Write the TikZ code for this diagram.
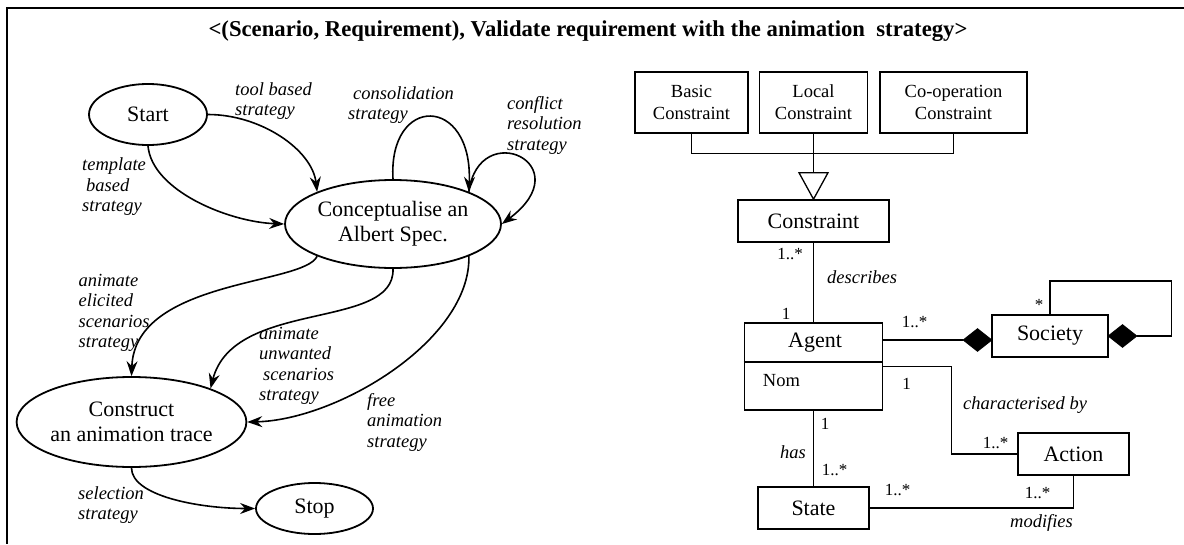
\documentclass[tikz,border=0pt]{standalone}
\usepackage{fontspec}
\setmainfont{Liberation Serif}
\usetikzlibrary{shapes.geometric,arrows.meta,calc}
\begin{document}
\begin{tikzpicture}[x=1pt,y=-1pt,
  stnode/.style={ellipse,draw,line width=1.8pt,inner sep=0pt,align=center,font=\fontsize{22}{25}\selectfont},
  lab/.style={anchor=west,align=left,inner sep=0pt,font=\fontsize{18.5}{20.5}\selectfont\itshape},
  flow/.style={line width=1.6pt,-{Stealth[length=15pt,width=11pt,inset=5pt]}},
  umlbox/.style={draw,line width=1.6pt,inner sep=0pt,align=center},
  bigtext/.style={font=\fontsize{22}{25}\selectfont},
  smalltext/.style={font=\fontsize{18.5}{21.7}\selectfont},
  mult/.style={inner sep=0pt,font=\fontsize{17}{19}\selectfont},
  ilab/.style={inner sep=0pt,font=\fontsize{18.5}{20.5}\selectfont\itshape},
  link/.style={line width=1.3pt},
  comp/.style={diamond,draw,fill=black,line width=0.8pt,minimum width=29pt,minimum height=23pt,inner sep=0pt}]
\useasboundingbox (0,0) rectangle (1184,544);
\fill[white] (0,0) rectangle (1184,544);
% frame
\draw[line width=2pt] (1184,7.5) -| (7,544);
% title
\node[font=\fontsize{22.7}{26}\selectfont\bfseries] (title) at (588,31) {<(Scenario, Requirement), Validate requirement with the animation\ \ strategy>};

% ---------- process map ----------
\node[stnode,minimum width=118pt,minimum height=61pt] (start) at (148,114.5) {Start};
\node[stnode,minimum width=216pt,minimum height=88pt] (concept) at (393,224) {Conceptualise an\\Albert Spec.};
\node[stnode,minimum width=217pt,minimum height=90pt] (construct) at (131.5,422) {Construct\\an animation trace};
\node[stnode,minimum width=117pt,minimum height=51pt] (stop) at (314.5,508.5) {Stop};

\draw[flow] (start.east) .. controls +(53,0) and +(-5,-42) .. (concept.157);
\draw[flow] (start.south) .. controls +(4,45) and +(-55,-2) .. (concept.west);
\draw[flow] (concept.north) .. controls +(-5,-85) and +(4,-97) .. (concept.23);
\draw[flow] (concept.23) .. controls +(10,-75) and +(80,-60) .. (concept.east);
\draw[flow] (concept.203) .. controls +(-13,29) and +(3.5,-97) .. (construct.north);
\draw[flow] (concept.south) .. controls +(2,62) and +(23,-90) .. (construct.23);
\draw[flow] (concept.-23) .. controls +(2,84) and +(90,-2) .. (construct.east);
\draw[flow] (construct.south) .. controls +(0,28) and +(-56,0) .. (stop.west);

\node[lab] (l1) at (235,101) {tool based\\strategy};
\node[lab] (l2) at (348,105) {\hspace{5pt}consolidation\\strategy};
\node[lab] (l3) at (507,125) {conflict\\resolution\\strategy};
\node[lab] (l4) at (82,187) {template\\\hspace{4pt}based\\strategy};
\node[lab] (l5) at (78.5,313) {animate\\elicited\\scenarios\\strategy};
\node[lab] (l6) at (259,366) {animate\\unwanted\\\hspace{4pt}scenarios\\strategy};
\node[lab] (l7) at (367,422) {free\\animation\\strategy};
\node[lab] (l8) at (78,505) {selection\\strategy};

% ---------- class diagram ----------
\node[umlbox,smalltext,minimum width=113pt,minimum height=61pt] (basic) at (691.5,102.5) {Basic\\Constraint};
\node[umlbox,smalltext,minimum width=108pt,minimum height=61pt] (local) at (813.5,102.5) {Local\\Constraint};
\node[umlbox,smalltext,minimum width=147pt,minimum height=61pt] (coop) at (953.5,102.5) {Co-operation\\Constraint};
\node[umlbox,bigtext,minimum width=151pt,minimum height=42pt] (constraint) at (813.5,221) {Constraint};
\coordinate (tri) at (813.5,172.7);
\draw[link] (basic.south) -- ++(0,20) -| (coop.south);
\draw[link] (local.south) -- (tri);
\draw[link] (tri) ++(-14.5,0) -- ++(29,0) -- (constraint.north) -- cycle;

\node[umlbox,minimum width=138pt,minimum height=87pt] (agent) at (813.5,366.5) {};
\draw[link] ($(agent.north west)+(0,39.7)$) -- ($(agent.north east)+(0,39.7)$);
\node[bigtext,inner sep=0pt] (agentname) at ($(agent.north)+(1.5,20)$) {Agent};
\node[smalltext,anchor=west,inner sep=0pt] (nom) at ($(agent.north west)+(19,58)$) {Nom};

\node[umlbox,bigtext,minimum width=111pt,minimum height=42pt] (state) at (813.5,508) {State};
\node[umlbox,bigtext,minimum width=116pt,minimum height=42pt] (society) at (1050,336) {Society};
\node[umlbox,bigtext,minimum width=111pt,minimum height=42pt] (action) at (1073.5,454) {Action};
\node[comp] (d1) at (977.5,340) {};
\node[comp] (d2) at (1122.5,336) {};

\draw[link] (constraint.south) -- (agent.north);
\draw[link] (agent.south) -- (state.north);
\draw[link] (d1.west) -- ++(-80,0);
\draw[link] (d2.east) -- ++(34,0) |- ($(society.north)+(0,-33.3)$) -- (society.north);
\draw[link] (agent.east) -- ++(68,0) |- (action.west);
\draw[link] (state.east) -| (action.south);

\node[mult] (m1) at (790,254) {1..*};
\node[ilab,anchor=west] (describes) at (827,277) {describes};
\node[mult] (m2) at (786,314) {1};
\node[mult] (m3) at (914.5,322) {1..*};
\node[mult] (m4) at (1039,305) {*};
\node[mult] (m5) at (906.7,384) {1};
\node[ilab,anchor=west] (charby) at (963,405) {characterised by};
\node[mult] (m6) at (995.5,443) {1..*};
\node[mult] (m7) at (825,424) {1};
\node[ilab] (has) at (793,452) {has};
\node[mult] (m8) at (834.5,470) {1..*};
\node[mult] (m9) at (897.5,490) {1..*};
\node[mult] (m10) at (1037.5,493) {1..*};
\node[ilab] (modifies) at (1041.5,523) {modifies};
\end{tikzpicture}
\end{document}
